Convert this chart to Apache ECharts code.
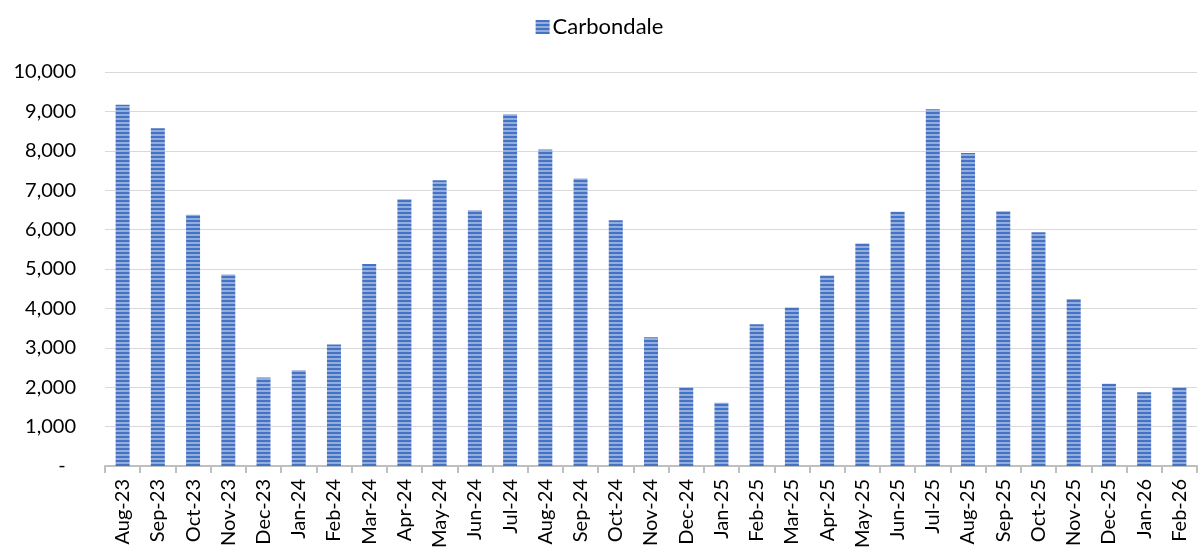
<!DOCTYPE html>
<html>
<head>
<meta charset="utf-8">
<script src="https://cdn.jsdelivr.net/npm/echarts@6/dist/echarts.min.js"></script>
<style>
html,body{margin:0;padding:0;background:#fff;}
#chart{width:1199px;height:554px;}
</style>
</head>
<body>
<div id="chart"></div>
<script>
const categories = ['Aug-23','Sep-23','Oct-23','Nov-23','Dec-23','Jan-24','Feb-24','Mar-24','Apr-24','May-24','Jun-24','Jul-24','Aug-24','Sep-24','Oct-24','Nov-24','Dec-24','Jan-25','Feb-25','Mar-25','Apr-25','May-25','Jun-25','Jul-25','Aug-25','Sep-25','Oct-25','Nov-25','Dec-25','Jan-26','Feb-26'];
const seriesName = 'Carbondale';
const carbondale = [9170,8575,6380,4860,2245,2430,3085,5125,6770,7255,6490,8930,8030,7300,6235,3270,1990,1605,3600,4020,4835,5650,6450,9055,7945,6465,5930,4240,2090,1870,1990];
const yTicks = {min:0, max:10000, interval:1000};

const pc = document.createElement('canvas');
pc.width = 4; pc.height = 4;
const ctx = pc.getContext('2d');
ctx.fillStyle = '#4472C4'; ctx.fillRect(0,0,4,2);
ctx.fillStyle = '#93ADDD'; ctx.fillRect(0,2,4,2);

const chart = echarts.init(document.getElementById('chart'));
chart.setOption({
  animation:false,
  textStyle:{fontFamily:'Lato'},
  legend:{
    top:11, left:'center',
    icon:'rect', itemWidth:14, itemHeight:14, itemGap:6,
    textStyle:{fontFamily:'Lato', fontSize:22, color:'#000', padding:[0,0,0,-2]},
    data:[seriesName]
  },
  grid:{left:105, right:2, top:72, bottom:88, containLabel:false},
  xAxis:{
    type:'category', data:categories,
    axisLine:{lineStyle:{color:'#BFBFBF', width:2}},
    axisTick:{show:true, length:7, lineStyle:{color:'#BFBFBF', width:2}},
    axisLabel:{interval:0, rotate:90, margin:13, fontFamily:'Lato', fontSize:20, color:'#000'}
  },
  yAxis:{
    type:'value', min:yTicks.min, max:yTicks.max, interval:yTicks.interval,
    axisLine:{show:false}, axisTick:{show:false},
    splitLine:{lineStyle:{color:'#D9D9D9', width:1}},
    axisLabel:{margin:29, fontFamily:'Lato', fontSize:20, color:'#000',
      formatter:function(v){ return v===0 ? '-  ' : v.toLocaleString('en-US'); }}
  },
  series:[{
    name:seriesName, type:'bar', data:carbondale, barWidth:14,
    itemStyle:{color:{image:pc, repeat:'repeat'}}
  }]
});
</script>
</body>
</html>
